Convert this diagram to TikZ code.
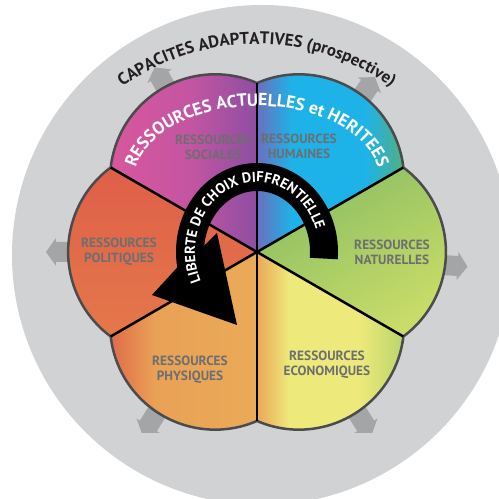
\documentclass[tikz,border=0pt]{standalone}
\usepackage{fontspec}
\setmainfont{PT Sans}
\usepackage{xcolor}
\usepackage{tikz}
\usetikzlibrary{decorations.text}

\definecolor{ringgray}{HTML}{D1D2D4}
\definecolor{arrowgray}{HTML}{A4A5A7}
\definecolor{edgegray}{HTML}{4B4B4D}
\definecolor{labelgray}{HTML}{6D6E71}
\definecolor{titleblack}{HTML}{231F20}
\definecolor{socA}{HTML}{D8579D}
\definecolor{socB}{HTML}{C455A2}
\definecolor{socC}{HTML}{8E4EA2}
\definecolor{humA}{HTML}{6A70BD}
\definecolor{humB}{HTML}{1EB3E8}
\definecolor{humC}{HTML}{52AE86}
\definecolor{natA}{HTML}{8BBE62}
\definecolor{natB}{HTML}{C9DC69}
\definecolor{ecoA}{HTML}{EBA85A}
\definecolor{ecoB}{HTML}{EEE97B}
\definecolor{ecoC}{HTML}{B9D56B}
\definecolor{phyA}{HTML}{E06B4A}
\definecolor{phyB}{HTML}{E9A156}
\definecolor{phyC}{HTML}{EBAA58}
\definecolor{polA}{HTML}{DF5F49}
\definecolor{polB}{HTML}{E4784A}

\pgfdeclarehorizontalshading{socshade}{100bp}{color(0bp)=(socA); color(25bp)=(socA); color(52bp)=(socB); color(75bp)=(socC); color(100bp)=(socC)}
\pgfdeclarehorizontalshading{humshade}{100bp}{color(0bp)=(humA); color(25bp)=(humA); color(37bp)=(humB); color(62bp)=(humB); color(75bp)=(humC); color(100bp)=(humC)}
\pgfdeclarehorizontalshading{ecoshade}{100bp}{color(0bp)=(ecoA); color(25bp)=(ecoA); color(36bp)=(ecoB); color(60bp)=(ecoB); color(75bp)=(ecoC); color(100bp)=(ecoC)}
\pgfdeclarehorizontalshading{physhade}{100bp}{color(0bp)=(phyA); color(25bp)=(phyA); color(40bp)=(phyB); color(75bp)=(phyC); color(100bp)=(phyC)}

\begin{document}
\begin{tikzpicture}[
    x=0.02cm, y=0.02cm,
    outarrow/.style={fill=arrowgray},
    petaledge/.style={draw=edgegray, line width=0.05cm, line join=round},
    divider/.style={draw=black, line width=0.05cm},
    reslabel/.style={font=\bfseries\fontsize{7.6}{8.6}\selectfont, text=labelgray, align=center},
    band/.style={draw=black, line width=0.56cm}
]
\useasboundingbox (-257,-247) rectangle (242,252);
\clip (-257,-247) rectangle (242,252);

% Adaptive capacities ring
\fill[ringgray] (5,-3) circle (250);

% Outward arrows
\foreach \a in {-4,56,119,180}
  \fill[outarrow, rotate=\a] (160,-10) -- (201,-10) -- (201,-14) -- (211,0) -- (201,14) -- (201,10) -- (160,10) -- cycle;
\begin{scope}
  \clip (-257,-180) rectangle (242,252);
  \foreach \a in {238,302}
    \fill[outarrow, rotate=\a] (160,-10) -- (205,-10) -- (205,-14) -- (216,0) -- (205,14) -- (205,10) -- (160,10) -- cycle;
\end{scope}

% Petals
\shade[shading=socshade] (0,0) -- (90:169) arc[start angle=66.5, end angle=173.5, radius=105.1] -- cycle;
\shade[shading=humshade] (0,0) -- (30:169) arc[start angle=6.5, end angle=113.5, radius=105.1] -- cycle;
\shade[top color=natA, bottom color=natB, shading angle=30] (0,0) -- (-30:169) arc[start angle=-53.5, end angle=53.5, radius=105.1] -- cycle;
\shade[shading=ecoshade] (0,0) -- (-90:169) arc[start angle=-113.5, end angle=-6.5, radius=105.1] -- cycle;
\shade[shading=physhade] (0,0) -- (210:169) arc[start angle=186.5, end angle=293.5, radius=105.1] -- cycle;
\shade[top color=polA, bottom color=polB] (0,0) -- (150:169) arc[start angle=126.5, end angle=233.5, radius=105.1] -- cycle;

% Outline and dividers
\draw[petaledge] (30:169) arc[start angle=6.5, end angle=113.5, radius=105.1]
  arc[start angle=66.5, end angle=173.5, radius=105.1]
  arc[start angle=126.5, end angle=233.5, radius=105.1]
  arc[start angle=186.5, end angle=293.5, radius=105.1]
  arc[start angle=246.5, end angle=353.5, radius=105.1]
  arc[start angle=306.5, end angle=413.5, radius=105.1] -- cycle;
\foreach \a in {30,90,...,330}
  \draw[divider] (0,0) -- (\a:169);

% Resource labels
\node[reslabel] (soc) at (-44,105) {RESSOURCES\\SOCIALES};
\node[reslabel] (hum) at (42,106) {RESSOURCES\\HUMAINES};
\node[reslabel] (pol) at (-138,0) {RESSOURCES\\POLITIQUES};
\node[reslabel] (nat) at (135,0) {RESSOURCES\\NATURELLES};
\node[reslabel] (phy) at (-67,-118) {RESSOURCES\\PHYSIQUES};
\node[reslabel] (eco) at (70,-113) {RESSOURCES\\ECONOMIQUES};

% Curved titles
\path[decorate, decoration={text along path, text align=center, text color=titleblack,
    text={|\bfseries\fontsize{9.6}{11}\selectfont|CAPACITES ADAPTATIVES (prospective)}}]
  ([shift={(0,-24)}]140:232) arc[start angle=140, end angle=40, radius=232];
\path[decorate, decoration={text along path, text align=center, text color=white,
    text={|\bfseries\fontsize{10}{12}\selectfont|RESSOURCES ACTUELLES et HERITEES}}]
  ([shift={(0,71)}]195:123 and 75) arc[start angle=195, end angle=-15, x radius=123, y radius=75];

% Choice arrow
\draw[band] (-5:67 and 75) arc[start angle=-5, end angle=195, x radius=67, y radius=75];
\fill[black] (-105,-43) -- (-20,-73) -- (-40,19) -- (175:54 and 61) -- (190:81 and 89) -- cycle;
\path[decorate, decoration={text along path, text align=center, text color=white,
    text={|\bfseries\fontsize{8.2}{9}\selectfont|LIBERTE DE CHOIX DIFFRENTIELLE}}]
  (240:62 and 70) arc[start angle=240, end angle=-15, x radius=62, y radius=70];
\end{tikzpicture}
\end{document}
